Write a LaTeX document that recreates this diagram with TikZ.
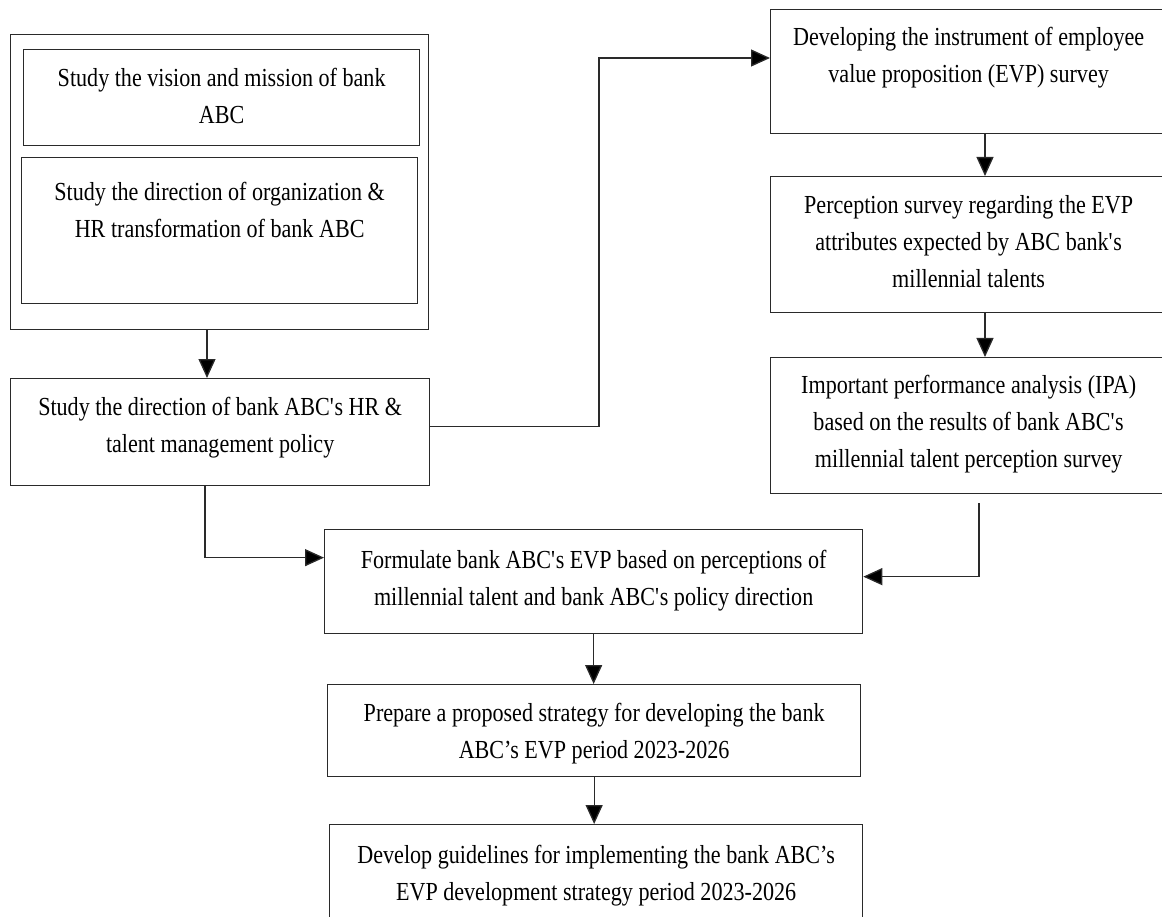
\documentclass[tikz,border=0pt]{standalone}
\usepackage{fontspec}
\setmainfont{Liberation Serif}[FakeStretch=0.85]
\usetikzlibrary{arrows.meta}
\definecolor{lc}{HTML}{2A2A2A}
\begin{document}
\begin{tikzpicture}[x=1pt,y=-1pt,
  box/.style={draw=lc, line width=1.3pt, inner sep=0pt, anchor=north west},
  lbl/.style={align=center, inner sep=0pt, anchor=north, font=\fontsize{26}{37}\selectfont, text=black},
  arr/.style={draw=lc, line width=1.3pt, -{Triangle[length=19pt,width=17pt,fill=black]}}]
\useasboundingbox (0,0) rectangle (1162,917);
\clip (0,0) rectangle (1162,917);
% boxes
\node[box, minimum width=418pt, minimum height=295pt] (outer) at (10,34) {};
\node[box, minimum width=396pt, minimum height=96pt] (vis) at (23,49) {};
\node[box, minimum width=396pt, minimum height=146pt] (org) at (21,157) {};
\node[box, minimum width=419pt, minimum height=107pt] (hr) at (10,378) {};
\node[box, minimum width=396pt, minimum height=124pt] (dev) at (770,9) {};
\node[box, minimum width=396pt, minimum height=136pt] (perc) at (770,176) {};
\node[box, minimum width=396pt, minimum height=136pt] (ipa) at (770,357) {};
\node[box, minimum width=538pt, minimum height=104pt] (form) at (324,529) {};
\node[box, minimum width=533pt, minimum height=92pt] (prep) at (327,684) {};
\node[box, minimum width=533pt, minimum height=110pt] (guide) at (329,824) {};
% labels
\node[lbl] (tvis) at ([yshift=-19pt]vis.north) {\rule{0pt}{18pt}Study the vision and mission of bank\\ABC};
\node[lbl] (torg) at ([yshift=-25pt]org.north) {\rule{0pt}{18pt}Study the direction of organization \&\\HR transformation of bank ABC};
\node[lbl] (thr) at ([yshift=-19pt]hr.north) {\rule{0pt}{18pt}Study the direction of bank ABC\textquotesingle s HR \&\\talent management policy};
\node[lbl] (tdev) at ([yshift=-18pt]dev.north) {\rule{0pt}{18pt}Developing the instrument of employee\\value proposition (EVP) survey};
\node[lbl] (tperc) at ([yshift=-19pt]perc.north) {\rule{0pt}{18pt}Perception survey regarding the EVP\\attributes expected by ABC bank\textquotesingle s\\millennial talents};
\node[lbl] (tipa) at ([yshift=-18pt]ipa.north) {\rule{0pt}{18pt}Important performance analysis (IPA)\\based on the results of bank ABC\textquotesingle s\\millennial talent perception survey};
\node[lbl] (tform) at ([yshift=-21pt]form.north) {\rule{0pt}{18pt}Formulate bank ABC\textquotesingle s EVP based on perceptions of\\millennial talent and bank ABC\textquotesingle s policy direction};
\node[lbl] (tprep) at ([yshift=-19pt]prep.north) {\rule{0pt}{18pt}Prepare a proposed strategy for developing the bank\\ABC’s EVP period 2023-2026};
\node[lbl] (tguide) at ([yshift=-21pt]guide.north) {\rule{0pt}{18pt}Develop guidelines for implementing the bank ABC’s\\EVP development strategy period 2023-2026};
% connectors
\coordinate (xa) at (207,0);
\draw[arr] (outer.south -| xa) -- (hr.north -| xa);
\coordinate (k1) at (599,58);
\draw[arr] ([yshift=5.5pt]hr.east) -| (k1) -- (k1 -| dev.west);
\coordinate (xr) at (985,0);
\draw[arr] (dev.south -| xr) -- (perc.north -| xr);
\draw[arr] (perc.south -| xr) -- (ipa.north -| xr);
\coordinate (xb) at (205,0);
\draw[arr] (hr.south -| xb) |- ([yshift=24pt]form.west);
\coordinate (xc) at (979,503);
\draw[arr] (xc) |- ([yshift=5pt]form.east);
\draw[arr] (form.south) -- (form.south |- prep.north);
\draw[arr] (prep.south) -- (prep.south |- guide.north);
\end{tikzpicture}
\end{document}
